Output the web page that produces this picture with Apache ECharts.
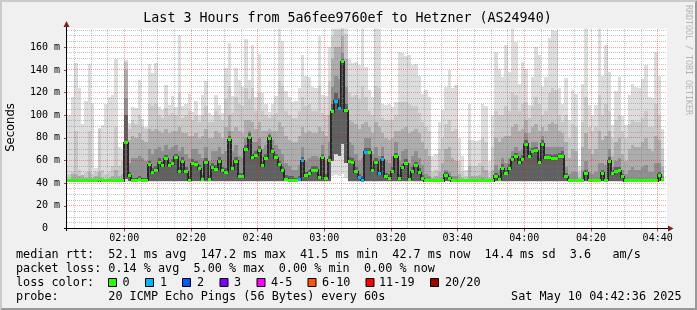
<!DOCTYPE html>
<html><head><meta charset="utf-8">
<script src="https://cdn.jsdelivr.net/npm/echarts@6/dist/echarts.min.js"></script>
<style>html,body{margin:0;padding:0;background:#f0f0f0}#c{width:697px;height:310px}</style>
</head><body><div id="c"></div>
<script>
// x values are minutes since midnight; step k covers [START+k, START+k+1]
const START = 103;            // 01:43
const AX_MIN = 102.8, AX_MAX = 282.8;
const Y_MAX = 176.6;

const xMajor = [120,140,160,180,200,220,240,260,280];
const xMinor = [105,110,115,125,130,135,145,150,155,165,170,175,185,190,195,205,210,215,225,230,235,245,250,255,265,270,275];
const yMajor = [0,20,40,60,80,100,120,140,160];
const yMinor = [5,10,15,25,30,35,45,50,55,65,70,75,85,90,95,105,110,115,125,130,135,145,150,155,165,170,175];

const median = [
42.0,42.0,42.0,42.0,42.0,42.0,42.0,42.0,42.0,43.0,42.0,42.0,42.0,42.0,42.0,42.0,42.0,
75.8,46.7,42.8,42.8,43.3,42.8,42.8,56.2,49.5,51,58.1,55.5,61.6,
55.4,57.3,62.7,50.2,59,50.2,42.8,57,56.1,52.6,
43.7,58.7,43.7,54.3,52.3,59.6,50.8,49.6,78.2,52.6,
59.6,45.5,45.5,69.9,80.2,62.6,64.9,69.3,55.5,62,
79.6,67.9,62.6,56.1,51.4,43.4,42.8,42.6,42.4,43.1,
59.8,46.5,48.7,51.5,51.5,45,62.3,44.3,60.3,103,
112.5,106,147.2,104,59,58.5,50,45,42.8,67.3,
67.3,51.5,58.6,48.3,60.8,45.5,44.3,50.2,63.3,44.3,
53.8,57,43.5,50.2,55.3,49.3,44,42.3,42.3,42.3,
42.3,42.3,42.3,47,44.3,42.3,42.3,42.3,42.3,42.3,
42.3,42.3,42.3,42.3,42.3,42.6,42.3,42.3,46,43.7,
52.9,48.6,53.4,60.5,63.3,58,61.1,74.6,64,67.9,
68.6,58.3,74.5,62.6,62.8,61.8,62,63.2,64,45.6,
42.6,42.5,42.5,42.5,42.5,49,42.6,42.6,42.6,42.6,
49,42.6,59.3,48.2,50.5,50.8,45.7,42.3,42.3,42.3,
42.3,42.3,42.3,42.3,42.3,42.3,42.3,47,43
];

const lossCount = [
0,0,0,0,0,0,0,0,0,0, 0,0,0,0,0,0,0,0,0,0, 0,0,0,0,0,0,0,0,0,0,
0,0,0,0,0,0,0,0,0,0, 0,0,0,0,0,0,0,0,0,0, 0,0,0,0,0,0,0,0,0,0,
0,0,0,0,0,0,0,0,0,1, 1,0,0,0,0,0,0,0,0,0, 1,1,0,0,0,0,0,1,1,1,
0,0,0,1,1,0,0,0,0,0, 0,0,0,0,0,0,0,0,0,0, 0,0,0,0,0,0,0,0,0,0,
0,0,0,0,0,0,0,0,0,0, 0,0,0,0,0,0,0,0,0,0, 0,0,0,0,0,0,0,0,0,0,
0,0,0,0,0,0,0,0,0,0, 0,0,0,0,0,0,0,0,0,0, 0,0,0,0,0,0,0,0,0
];

const smokeMax = [
100,116,146,124,92,113,145,111,53,89,91,110,116,118,150,72,70,
149,93,107,106,131,97,90,145,137,146,107,105,127,
109,117,107,171,108,110,119,103,113,100,
118,130,102,100,118,109,102,142,164,117,
142,131,125,167,131,162,116,154,120,110,
103,110,117,177,166,121,116,112,113,124,
153,135,134,125,124,170,118,117,160,177,
177,177,177,177,150,146,147,144,177,143,
122,116,177,176,110,109,110,107,112,156,
155,152,153,144,145,135,119,122,116,64,
66,94,105,125,140,124,127,80,64,52,
110,78,77,78,110,108,60,100,156,141,
134,162,138,177,165,128,147,141,109,134,
160,153,125,134,168,175,174,124,110,133,
96,122,119,55,128,177,109,100,109,177,
135,162,138,91,121,134,99,91,118,128,
125,124,132,144,116,115,156,135,88
];

const smokeHi = [
48,50,86,52,46,50,86,48,50,88,52,48,50,55,90,55,60,
147,88,96,92,100,90,88,110,108,110,100,98,106,
100,102,100,120,98,100,104,96,100,94,
100,108,94,94,104,100,96,114,126,102,
116,110,108,124,114,124,104,120,104,100,
98,100,102,130,126,104,100,98,98,104,
116,108,110,104,104,126,102,100,130,170,
175,175,177,172,120,116,118,114,126,116,
104,100,126,124,98,96,96,96,100,112,
112,112,110,108,108,102,94,90,86,50,
52,70,80,92,96,86,88,60,50,46,
78,55,55,58,80,76,50,72,104,100,
100,108,104,120,118,104,110,112,98,108,
116,110,100,104,120,124,122,100,94,100,
80,92,90,50,94,116,90,86,90,118,
100,110,104,80,96,100,86,80,92,96,
94,94,98,104,90,90,110,100,70
];

const smokeMid = [
44,48,48,46,47,45,50,45,46,50,45,44,45,46,52,46,48,
140,78,82,80,84,78,76,88,86,88,86,84,88,
84,86,86,90,84,84,82,82,84,80,
82,88,80,80,86,84,80,90,100,86,
90,86,84,96,96,94,88,94,86,86,
88,86,86,94,90,82,78,76,76,82,
90,84,86,84,84,90,86,82,100,150,
160,160,170,150,96,94,92,88,92,94,
90,84,94,90,84,80,78,80,86,86,
88,90,84,86,88,84,76,70,64,45,
46,50,58,70,72,62,60,48,45,44,
55,46,46,47,55,52,45,52,80,76,
80,82,82,90,92,86,88,96,84,90,
92,86,90,86,92,94,92,86,84,76,
62,70,68,45,72,84,70,66,70,86,
78,82,86,64,76,80,66,60,70,74,
72,72,76,80,70,68,82,78,54
];

const smokeLow = [
43,44,44,43,44,43,44,43,43,45,43,43,43,43,44,43,44,
115,58,62,62,64,62,60,70,66,70,72,68,74,
70,72,74,68,72,66,62,70,70,66,
62,72,60,68,68,72,66,68,86,68,
74,64,62,80,86,76,76,80,70,74,
84,78,74,70,66,58,55,52,52,56,
72,60,62,64,64,62,74,60,76,125,
135,132,155,125,76,74,66,60,62,80,
80,66,72,64,72,60,58,64,76,60,
68,70,58,64,68,62,56,48,46,43,
43,44,45,52,50,46,46,44,43,43,
44,43,43,43,45,44,43,44,56,52,
62,58,62,68,72,68,70,84,72,76,
76,68,82,72,72,72,72,72,72,54,
48,50,50,43,52,60,50,48,50,58,
58,56,70,54,60,62,52,48,52,54,
52,52,54,56,50,50,58,58,46
];

// darkest smoke, just around the median
const smokeCore = [
43.5,43.5,43.5,43.5,43.5,43.5,43.5,43.5,43.5,44,43.5,43.5,43.5,43.5,43.5,43.5,43.5,
100,50,45,45,46,45,45,60,53,55,62,59,65,
59,61,66,54,63,54,46,61,60,56,
47,62,47,58,56,63,54,53,82,56,
63,49,49,74,84,66,68,73,59,66,
83,71,66,60,55,47,46,46,45,46,
63,50,52,55,55,48,66,48,64,110,
120,115,150,110,63,62,54,48,46,71,
71,55,62,52,64,49,48,54,67,48,
57,61,47,54,59,53,47,44,44,44,
44,44,44,50,46,44,44,44,44,44,
44,44,44,44,44,44,44,44,49,46,
57,52,57,64,67,62,65,78,68,71,
72,62,78,66,66,65,66,67,68,49,
44,44,44,44,44,52,44,44,44,44,
52,44,63,51,54,54,48,44,44,44,
44,44,44,44,44,44,44,50,45
];

// bottom of the outer (lightest) band = lowest ping
const smokeMin = [
41.5,41.5,41.5,41.5,41.5,41.5,41.5,41.5,41.5,41.5,41.5,41.5,41.5,41.5,41.5,41.5,41.5,
41.5,41.5,41.5,41.5,41.5,41.5,41.5,41.5,41.5,41.5,41.5,41.5,41.5,
41.5,41.5,41.5,41.5,41.5,41.5,41.5,41.5,41.5,41.5,
41.5,41.5,41.5,41.5,41.5,41.5,41.5,41.5,41.5,41.5,
41.5,41.5,41.5,41.5,41.5,41.5,41.5,41.5,41.5,41.5,
41.5,41.5,41.5,41.5,41.5,41.5,41.5,41.5,41.5,41.5,
41.5,41.5,41.5,41.5,41.5,41.5,41.5,41.5,41.5,46,
47,46,48,45,41.5,41.5,41.5,41.5,41.5,41.5,
41.5,41.5,41.5,41.5,41.5,41.5,41.5,41.5,41.5,41.5,
41.5,41.5,41.5,41.5,41.5,41.5,41.5,41.5,41.5,41.5,
41.5,41.5,41.5,41.5,41.5,41.5,41.5,41.5,41.5,41.5,
41.5,41.5,41.5,41.5,41.5,41.5,41.5,41.5,41.5,41.5,
41.5,41.5,41.5,41.5,41.5,41.5,41.5,41.5,41.5,41.5,
41.5,41.5,41.5,41.5,41.5,41.5,41.5,41.5,41.5,41.5,
41.5,41.5,41.5,41.5,41.5,41.5,41.5,41.5,41.5,41.5,
41.5,41.5,41.5,41.5,41.5,41.5,41.5,41.5,41.5,41.5,
41.5,41.5,41.5,41.5,41.5,41.5,41.5,41.5,41.5
];
// bottom of the inner (darker) bands
const smokeFloor = [
42,42,42,42,42,42,42,42,42,42,42,42,42,42,42,42,42,
44,42,42,42,42,42,42,42,42,42,42,42,42,
42,42,42,42,42,42,42,42,42,42,
42,42,42,42,42,42,42,42,42,42,
42,42,42,42,42,42,42,42,42,42,
42,42,42,42,42,42,42,42,42,42,
42,42,42,42,42,42,42,42,42,60,
66,64,75,58,42,42,42,42,42,42,
42,42,42,42,42,42,42,42,42,42,
42,42,42,42,42,42,42,42,42,42,
42,42,42,42,42,42,42,42,42,42,
42,42,42,42,42,42,42,42,42,42,
42,42,42,42,42,42,42,42,42,42,
42,42,42,42,42,42,42,42,42,42,
42,42,42,42,42,42,42,42,42,42,
42,42,42,42,42,42,42,42,42,42,
42,42,42,42,42,42,42,42,42
];

const lossColors = ['#26ff00','#00b8ff','#0059ff','#7e00ff','#ff00ff','#ff5500','#ff0000','#a10000'];
const lossLabels = ['0','1','2','3','4-5','6-10','11-19','20/20'];

const MONO = '"DejaVu Sans Mono", monospace';
const CW = 7.1;   // legend character advance
const LF = '11.8px ' + MONO;

function fmtTime(v){ const h = Math.floor(v/60), m = Math.round(v%60); return String(h).padStart(2,'0')+':'+String(m).padStart(2,'0'); }

function bandSeries(lowArr, highArr, color, z){
  return {
    type:'custom', z, clip:true, silent:true, animation:false,
    data: highArr.map((h,k)=>[START+k, lowArr[k], h]),
    encode:{x:0, y:[1,2]},
    renderItem(params, api){
      const t = api.value(0), lo = api.value(1), hi = api.value(2);
      const tl = params.dataIndex === 0 ? AX_MIN : t;
      const a = api.coord([tl, hi]), b = api.coord([t+1, lo]);
      const x0 = Math.round(a[0]), x1 = Math.round(b[0]);
      const y0 = Math.round(a[1]), y1 = Math.round(b[1]);
      return {type:'rect', shape:{x:x0, y:y0, width:x1-x0, height:y1-y0}, style:{fill:color}};
    }
  };
}

function gridSeries(vals, dir, color, z){
  return {
    type:'custom', z, silent:true, animation:false, clip:false,
    data: vals.map(v => dir === 'v' ? [v, 0] : [AX_MIN, v]),
    encode:{x:0, y:1},
    renderItem(params, api){
      if (dir === 'v'){
        const v = api.value(0);
        const p = api.coord([v, 0]), q = api.coord([v, Y_MAX]);
        const x = Math.floor(p[0] + 0.01) + 0.5;
        return {type:'line', shape:{x1:x, y1:Math.round(q[1]), x2:x, y2:Math.round(p[1])}, style:{stroke:color, lineWidth:1, lineDash:[1,1]}};
      }
      const v = api.value(1);
      const p = api.coord([AX_MIN, v]), q = api.coord([AX_MAX, v]);
      const y = Math.round(p[1] - 0.5) + 0.5;
      return {type:'line', shape:{x1:Math.round(p[0]), y1:y, x2:Math.round(q[0]), y2:y}, style:{stroke:color, lineWidth:1, lineDash:[1,1]}};
    }
  };
}

const connectorSeries = {
  type:'custom', z:8, clip:true, silent:true, animation:false,
  data: median.map((m,k)=>[START+k, k>0 ? median[k-1] : m, m]),
  encode:{x:0, y:[1,2]},
  renderItem(params, api){
    if (params.dataIndex === 0) return null;
    const t = api.value(0), a = api.value(1), b = api.value(2);
    const p = api.coord([t, Math.max(a,b)]), q = api.coord([t, Math.min(a,b)]);
    const x = Math.round(p[0]);
    return {type:'rect', shape:{x:x-1, y:Math.round(p[1])-1, width:2, height:Math.round(q[1])-Math.round(p[1])+2}, style:{fill:'#262626'}};
  }
};

const markerSeries = {
  type:'custom', z:9, clip:true, silent:true, animation:false,
  data: median.map((m,k)=>[START+k, m, lossCount[k]]),
  encode:{x:0, y:1},
  renderItem(params, api){
    const t = api.value(0), m = api.value(1), l = api.value(2);
    const tl = params.dataIndex === 0 ? AX_MIN : t;
    const a = api.coord([tl, m]), b = api.coord([t+1, m]);
    const x0 = Math.round(a[0]), x1 = Math.round(b[0]);
    const y0 = Math.round(a[1] - 1.5);
    let ci = 0;
    if (l >= 20) ci = 7; else if (l >= 11) ci = 6; else if (l >= 6) ci = 5; else if (l >= 4) ci = 4; else ci = l;
    return {type:'rect', shape:{x:x0, y:y0, width:x1-x0, height:3}, style:{fill:lossColors[ci]}};
  }
};

const graphics = [];
graphics.push({type:'polygon', z:-5, shape:{points:[[0,0],[697,0],[695,2],[2,2],[2,308],[0,310]]}, style:{fill:'#cbcbcb'}});
graphics.push({type:'polygon', z:-5, shape:{points:[[697,0],[697,310],[0,310],[2,308],[695,308],[695,2]]}, style:{fill:'#999999'}});
graphics.push({type:'rect', z:-4, shape:{x:67, y:28.5, width:600, height:200}, style:{fill:'#ffffff'}});
graphics.push({type:'line', z:30, shape:{x1:64, y1:228.5, x2:668, y2:228.5}, style:{stroke:'#000', lineWidth:1}});
graphics.push({type:'line', z:30, shape:{x1:66.5, y1:231, x2:66.5, y2:26}, style:{stroke:'#000', lineWidth:1}});
graphics.push({type:'polygon', z:31, shape:{points:[[63.5,27],[69.5,27],[66.5,21]]}, style:{fill:'#7f1f1f'}});
graphics.push({type:'polygon', z:31, shape:{points:[[668,225.5],[668,231.5],[673.5,228.5]]}, style:{fill:'#7f1f1f'}});

function txt(text, x, y, opts){
  opts = opts || {};
  graphics.push({type:'text', z:30, x, y, rotation: opts.rotation || 0,
    style:{text, font: opts.font || LF, fill: opts.fill || '#000',
      align: opts.align || 'left', verticalAlign:'middle', textAlign: opts.align || 'left', textVerticalAlign:'middle'}});
}
txt('Last 3 Hours from 5a6fee9760ef to Hetzner (AS24940)', 347.5, 19, {font:'13.3px ' + MONO, align:'center'});
txt('Seconds', 10.5, 127.5, {font:'11.6px "DejaVu Sans", sans-serif', align:'center', rotation:Math.PI/2});
txt('RRDTOOL / TOBI OETIKER', 688.5, 60, {font:'8.3px ' + MONO, align:'center', rotation:-Math.PI/2, fill:'#b4b4b4'});

// legend pieces: [text, character column]
const row1 = [['median rtt:',0],['52.1 ms avg',13],['147.2 ms max',26],['41.5 ms min',40],['42.7 ms now',53],['14.4 ms sd',66],['3.6',78],['am/s',84]];
const row2 = [['packet loss:',0],['0.14 % avg',13],['5.00 % max',25],['0.00 % min',37],['0.00 % now',49]];
const row4 = [['probe:',0],['20 ICMP Echo Pings (56 Bytes) every 60s',13]];
row1.forEach(r=>txt(r[0], 16 + r[1]*CW, 254.5));
row2.forEach(r=>txt(r[0], 16 + r[1]*CW, 268.5));
row4.forEach(r=>txt(r[0], 16 + r[1]*CW, 296.5));
txt('Sat May 10 04:42:36 2025', 681.5, 296.5, {align:'right'});
txt('loss color:', 16, 282.5);
const boxX = [108,145,182,219.5,256.5,307.5,365.5,430];
const labX = [122.5,160,197,234,271,322,379,445];
lossLabels.forEach((l,i)=>{
  graphics.push({type:'rect', z:30, shape:{x:boxX[i]+0.5, y:278.5, width:8, height:8}, style:{fill:lossColors[i], stroke:'#000', lineWidth:1}});
  txt(l, labX[i], 282.5);
});

const chart = echarts.init(document.getElementById('c'), null, {renderer:'canvas', width:697, height:310});
chart.setOption({
  animation:false,
  backgroundColor:'#f0f0f0',
  grid:{left:67, top:28.5, width:600, height:200, outerBoundsMode:'none'},
  xAxis:{type:'value', min:AX_MIN, max:AX_MAX, z:12,
     axisLine:{show:false},
     axisTick:{show:true, customValues:xMajor, length:3, lineStyle:{color:'rgba(130,30,30,0.8)'}},
     axisLabel:{customValues:xMajor, formatter:fmtTime, fontFamily:'DejaVu Sans Mono', fontSize:10, color:'#000', margin:5},
     splitLine:{show:false}},
  yAxis:{type:'value', min:0, max:Y_MAX, z:12,
     axisLine:{show:false},
     axisTick:{show:true, customValues:yMajor, length:3, lineStyle:{color:'rgba(130,30,30,0.8)'}},
     axisLabel:{customValues:yMajor, formatter:v => v === 0 ? '0  ' : (v + ' m'), fontFamily:'DejaVu Sans Mono', fontSize:10, color:'#000', margin:7},
     splitLine:{show:false}},
  graphic: graphics,
  series:[
    bandSeries(smokeMin, smokeMax, '#dddddd', 2),
    bandSeries(smokeFloor, smokeHi, '#c9c9c9', 3),
    bandSeries(smokeFloor, smokeMid, '#adadad', 4),
    bandSeries(smokeFloor, smokeLow, '#8f8f8f', 5),
    bandSeries(smokeFloor, smokeCore, '#606060', 6),
    gridSeries(yMinor, 'h', 'rgba(120,120,120,0.45)', 10),
    gridSeries(xMinor, 'v', 'rgba(120,120,120,0.45)', 10),
    gridSeries(yMajor.slice(1), 'h', 'rgba(255,0,0,0.38)', 11),
    gridSeries(xMajor, 'v', 'rgba(255,0,0,0.38)', 11),
    connectorSeries,
    markerSeries
  ]
});
</script></body></html>
